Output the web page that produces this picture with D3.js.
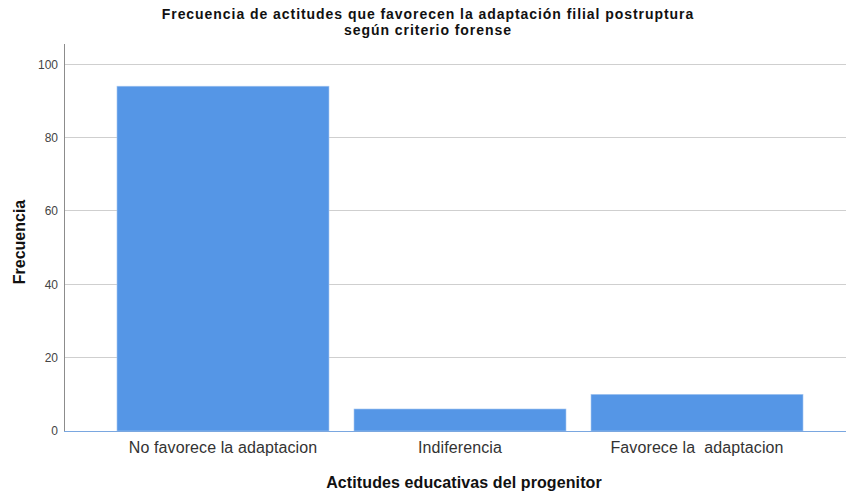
<!DOCTYPE html>
<html><head><meta charset="utf-8">
<script src="https://cdn.jsdelivr.net/npm/d3@7"></script>
<style>body{margin:0;background:#fff;font-family:"Liberation Sans",Arial,sans-serif;}</style>
</head><body><svg id="c" width="846" height="493"></svg>
<script>
const categories = ["No favorece la adaptacion", "Indiferencia", "Favorece la  adaptacion"];
const values = [94, 6, 10];
const yTicks = [0, 20, 40, 60, 80, 100];
const titleLines = ["Frecuencia de actitudes que favorecen la adaptación filial postruptura", "según criterio forense"];

const svg = d3.select("#c");
const x0 = 64, x1 = 846, yTop = 44, yBase = 431;
const y = d3.scaleLinear().domain([0, 105.5]).range([yBase, yTop]);
const x = d3.scaleBand().domain(categories).range([104.5, 815.5]).paddingInner(0.1055).paddingOuter(0.0527);

// gridlines
svg.append("g").selectAll("line").data(yTicks.filter(d => d > 0)).join("line")
  .attr("x1", x0).attr("x2", x1).attr("y1", d => y(d)).attr("y2", d => y(d))
  .attr("stroke", "#cfcfcf").attr("stroke-width", 1).attr("shape-rendering", "crispEdges");

// bars
svg.append("g").selectAll("rect").data(values).join("rect")
  .attr("x", (d, i) => x(categories[i])).attr("width", x.bandwidth())
  .attr("y", d => y(d)).attr("height", d => yBase - y(d))
  .attr("fill", "#5596e6").attr("stroke", "#a9c8f0").attr("stroke-width", 0.6);

// y axis
const ya = d3.axisLeft(y).tickValues(yTicks).tickSize(0).tickPadding(6);
const gy = svg.append("g").attr("transform", `translate(${x0},0)`).call(ya);
gy.select(".domain").remove();
gy.selectAll("text").attr("font-family", "Liberation Sans, Arial, sans-serif").attr("font-size", 12).attr("fill", "#444");
svg.append("line").attr("x1", x0 + 0.5).attr("x2", x0 + 0.5).attr("y1", yTop).attr("y2", yBase)
  .attr("stroke", "#8c8c8c");

// baseline
svg.append("line").attr("x1", x0).attr("x2", x1).attr("y1", yBase + 0.5).attr("y2", yBase + 0.5)
  .attr("stroke", "#7aa7e0");

// x axis labels
const xa = d3.axisBottom(x).tickSize(0).tickPadding(11);
const gx = svg.append("g").attr("transform", `translate(0,${yBase})`).call(xa);
gx.select(".domain").remove();
gx.selectAll("text").attr("font-family", "Liberation Sans, Arial, sans-serif").attr("font-size", 16)
  .attr("letter-spacing", 0.1).attr("fill", "#333").style("white-space", "pre");

// title
svg.append("g").selectAll("text").data(titleLines).join("text")
  .attr("x", 428).attr("y", (d, i) => [18.7, 34.6][i]).attr("text-anchor", "middle")
  .attr("font-size", 14).attr("letter-spacing", 0.95).attr("font-weight", "bold").attr("fill", "#111").text(d => d);

// axis titles
svg.append("text").attr("x", 464).attr("y", 488).attr("text-anchor", "middle")
  .attr("font-size", 16).attr("letter-spacing", 0.1).attr("font-weight", "bold").attr("fill", "#111").text("Actitudes educativas del progenitor");
svg.append("text").attr("transform", "translate(24.5,242) rotate(-90)").attr("text-anchor", "middle")
  .attr("font-size", 16).attr("font-weight", "bold").attr("fill", "#111").text("Frecuencia");
</script></body></html>
